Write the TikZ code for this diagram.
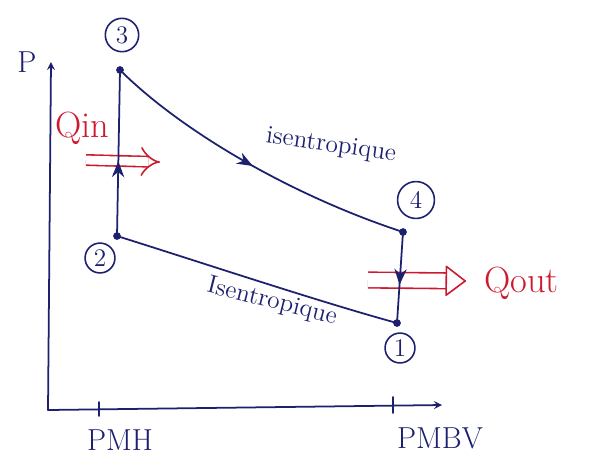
\documentclass[tikz,border=0pt]{standalone}
\usetikzlibrary{arrows.meta,decorations.markings}
\definecolor{ink}{RGB}{28,32,110}
\definecolor{heat}{RGB}{205,25,45}
\begin{document}
\begin{tikzpicture}[line cap=round, line join=round, font=\Large, >=stealth, x=0.02cm, y=-0.02cm]
	\tikzset{state/.style={circle, draw=ink, text=ink, line width=0.9pt, inner sep=1pt, minimum size=17pt},
		midarrow/.style={postaction={decorate}, decoration={markings, mark=at position #1 with {\arrow{Stealth[length=9pt, width=7pt]}}}},
		heatflow/.style={heat, line width=0.9pt, line cap=butt, double=white, double distance=#1},
		ink line/.style={ink, line width=1pt}}
	\useasboundingbox (0,0) rectangle (605,461);
	% heat (drawn first, the cycle crosses it)
	\coordinate (qina) at (86,160);
	\coordinate (qinb) at (160,162);
	\draw[heatflow=5pt, -Implies] (qina) -- (qinb);
	\node[heat, font=\huge] (qin) at (82,128) {Qin};
	\coordinate (qouta) at (368,280);
	\coordinate (qoutb) at (466,281);
	\draw[heatflow=8pt, -{Triangle[open, length=12pt, width=18pt, round]}] (qouta) -- (qoutb);
	\node[heat, font=\huge, anchor=west] (qout) at (478,283) {Qout};
	% axes
	\coordinate (O) at (48,410);
	\coordinate (xend) at (442,405);
	\coordinate (yend) at (51,62);
	\draw[ink line, ->] (O) -- (xend);
	\draw[ink line, ->] (O) -- (yend);
	\node[ink, font=\LARGE] (P) at (27,62) {P};
	\coordinate (tpmh) at (99,409);
	\coordinate (tpmb) at (393,406);
	\draw[ink line] (tpmh) ++(0,-7) -- ++(0,14);
	\draw[ink line] (tpmb) ++(0,-9) -- ++(0,16);
	\node[ink, font=\LARGE] (pmh) at (120,440) {PMH};
	\node[ink, font=\LARGE] (pmb) at (440,438) {PMBV};
	% state points
	\coordinate (c1) at (397,323);
	\coordinate (c2) at (117,236);
	\coordinate (c3) at (120,70);
	\coordinate (c4) at (403,232);
	\foreach \c in {c1,c2,c3,c4}
		\fill[ink] (\c) circle (2.2pt);
	\node[state] (p1) at (400,348) {1};
	\node[state] (p2) at (100,258) {2};
	\node[state, minimum size=19pt] (p3) at (122,35) {3};
	\node[state, minimum size=21pt] (p4) at (416,200) {4};
	% cycle
	\draw[ink line, midarrow=0.45] (c2) -- (c3);
	\draw[ink line, midarrow=0.5] (c3) .. controls (180,130) and (290,195) .. (c4);
	\draw[ink line, midarrow=0.58] (c4) -- (c1);
	\draw[ink line] (c1) .. controls (320,302) and (200,262) .. (c2);
	\node[ink, rotate=-8] (isa) at (331,146) {isentropique};
	\node[ink, rotate=-14] (isb) at (272,302) {Isentropique};
\end{tikzpicture}
\end{document}
